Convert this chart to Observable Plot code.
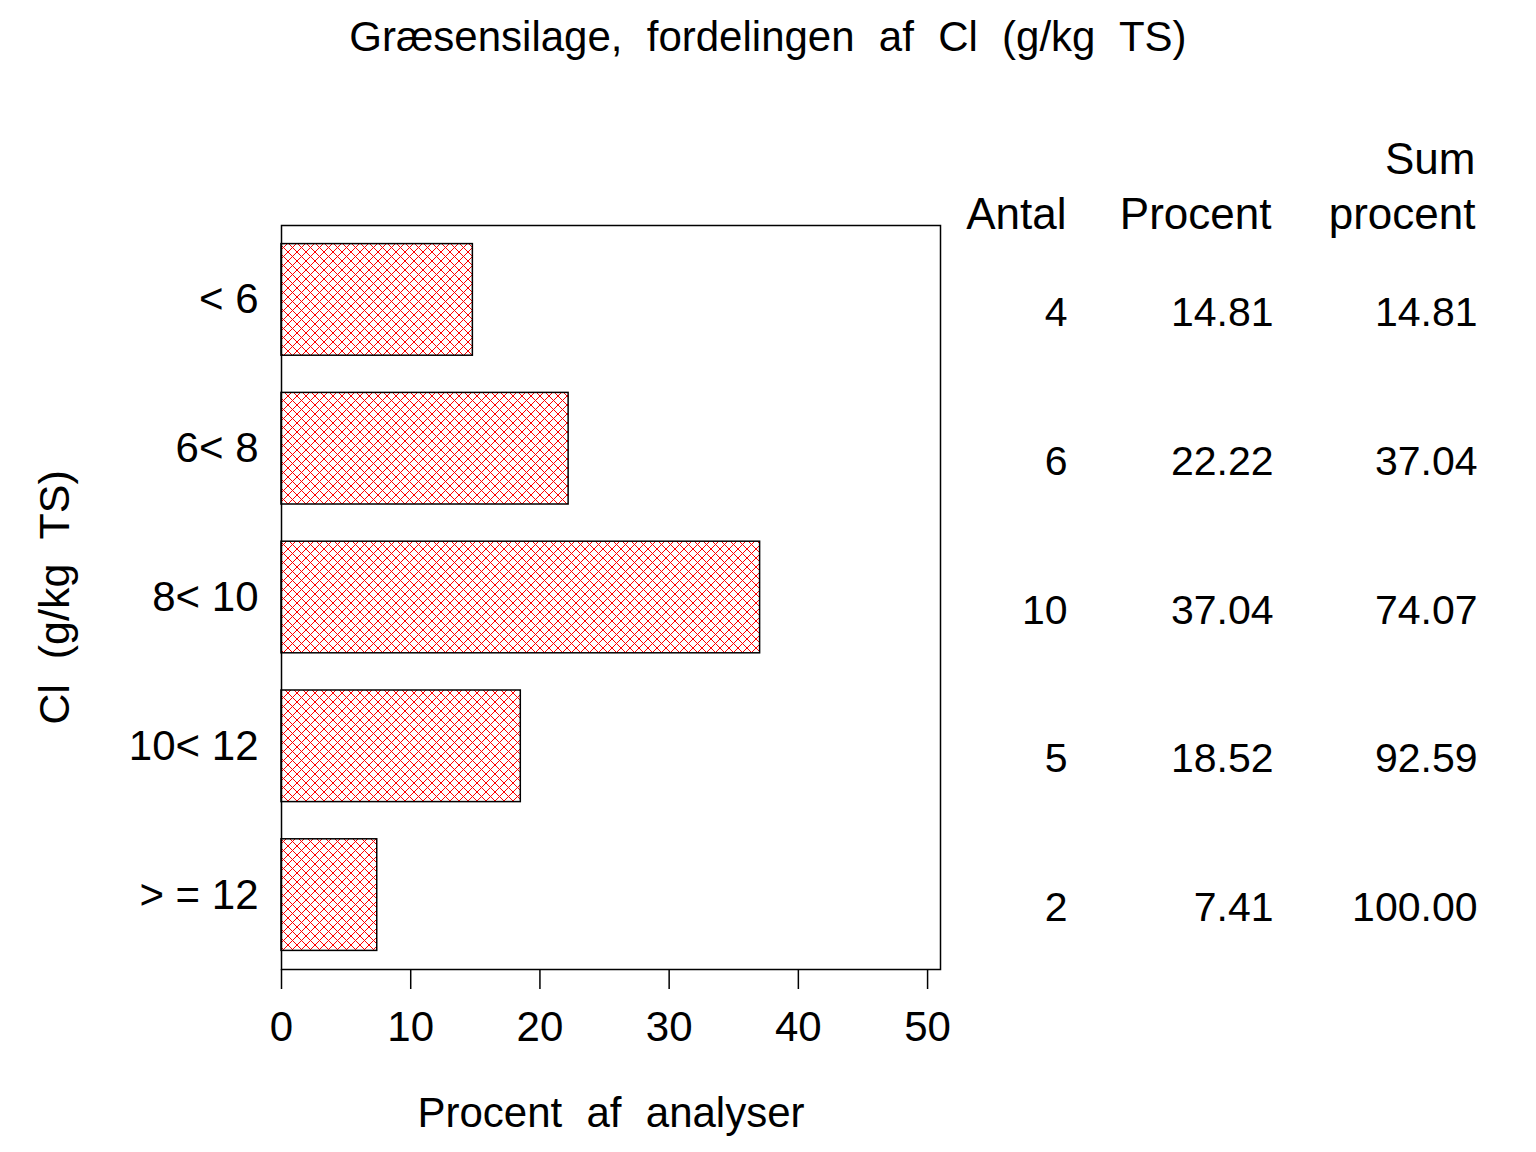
<!DOCTYPE html>
<html><head><meta charset="utf-8">
<script src="https://cdn.jsdelivr.net/npm/d3@7"></script>
<script src="https://cdn.jsdelivr.net/npm/@observablehq/plot@0.6"></script>
<style>
html,body{margin:0;padding:0;background:#fff;}
body{font-family:"Liberation Sans",Arial,Helvetica,sans-serif;width:1536px;}
#title{height:90px;box-sizing:border-box;padding-top:16px;text-align:center;font-size:42px;line-height:1;word-spacing:0.3em;color:#000;}
#chart svg{display:block;}
.wlabel text{word-spacing:0.3em;}
</style></head><body>
<div id="title">Græsensilage, fordelingen af Cl (g/kg TS)</div>
<div id="chart"></div>
<script>
const categories = ["< 6", "6< 8", "8< 10", "10< 12", "> = 12"];
const antal = [4, 6, 10, 5, 2];
const procent = [14.81, 22.22, 37.04, 18.52, 7.41];
const sumProcent = [14.81, 37.04, 74.07, 92.59, 100.00];
const xTicks = [0, 10, 20, 30, 40, 50];

const data = categories.map((c, i) => ({cat: c, antal: antal[i], procent: procent[i], sum: sumProcent[i]}));

const chart = Plot.plot({
  width: 1536,
  height: 1062,
  marginTop: 135,
  marginBottom: 183,
  marginLeft: 281,
  marginRight: 596,
  style: {fontFamily: "'Liberation Sans', Arial, Helvetica, sans-serif", fontSize: "42px", color: "#000", background: "#fff"},
  x: {domain: [0, 51]},
  y: {domain: categories, paddingInner: 0.25, paddingOuter: 0.125, round: false},
  marks: [
    Plot.barX(data, {x: "procent", y: "cat", fill: "url(#hatch)", stroke: "#000", strokeWidth: 1.5}),
    Plot.frame({stroke: "#000", strokeWidth: 1.5}),
    Plot.axisX({ticks: xTicks, tickSize: 20, tickPadding: 22, tickFormat: d => String(d), fontSize: 42, label: null, strokeWidth: 1.5}),
    Plot.axisY({tickSize: 0, tickPadding: 23, fontSize: 42, label: null}),
    Plot.text(["Procent af analyser"], {frameAnchor: "bottom", dy: 157, lineAnchor: "bottom", textAnchor: "middle", fontSize: 42, text: d => d, fill: "#000", className: "wlabel"}),
    Plot.text(["Cl (g/kg TS)"], {frameAnchor: "left", dx: -226, rotate: -90, lineAnchor: "middle", textAnchor: "middle", fontSize: 43, text: d => d, fill: "#000", className: "wlabel"}),
    Plot.text(["Antal"], {frameAnchor: "top-right", dx: 126, dy: 3, textAnchor: "end", lineAnchor: "bottom", fontSize: 44, text: d => d}),
    Plot.text(["Procent"], {frameAnchor: "top-right", dx: 331, dy: 3, textAnchor: "end", lineAnchor: "bottom", fontSize: 44, text: d => d}),
    Plot.text(["Sum\nprocent"], {frameAnchor: "top-right", dx: 535, dy: 3, textAnchor: "end", lineAnchor: "bottom", lineHeight: 1.25, fontSize: 44, text: d => d}),
    Plot.text(data, {y: "cat", frameAnchor: "right", dx: 127, dy: 13, textAnchor: "end", text: d => String(d.antal), fontSize: 41}),
    Plot.text(data, {y: "cat", frameAnchor: "right", dx: 333, dy: 13, textAnchor: "end", text: d => d.procent.toFixed(2), fontSize: 41}),
    Plot.text(data, {y: "cat", frameAnchor: "right", dx: 537, dy: 13, textAnchor: "end", text: d => d.sum.toFixed(2), fontSize: 41})
  ]
});

const svg = d3.select(chart);
const defs = svg.insert("defs", ":first-child");
const pat = defs.append("pattern").attr("id", "hatch").attr("patternUnits", "userSpaceOnUse")
  .attr("width", 9).attr("height", 9);
pat.append("rect").attr("width", 9).attr("height", 9).attr("fill", "#fff");
pat.append("path").attr("d", "M0,0L9,9M9,0L0,9M-1,8L1,10M8,-1L10,1M-1,1L1,-1M8,10L10,8")
  .attr("stroke", "#ff0000").attr("stroke-width", 1).attr("fill", "none");
document.getElementById("chart").appendChild(chart);
</script>
</body></html>
